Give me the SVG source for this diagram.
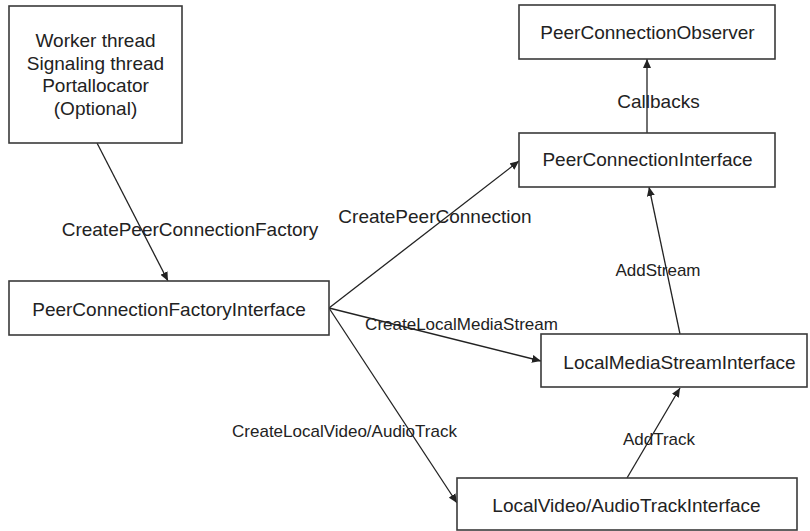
<svg xmlns="http://www.w3.org/2000/svg" width="810" height="531" viewBox="0 0 810 531">
  <defs>
    <style>
      .box { fill: #ffffff; stroke: #3a3a3a; stroke-width: 1.6; }
      .edge { fill: none; stroke: #222222; stroke-width: 1.3; marker-end: url(#arrow); }
      text { font-family: "Liberation Sans", Arial, sans-serif; fill: #222222; text-anchor: middle; }
      .node { font-size: 19px; }
      .lbl { font-size: 19px; }
      .lbl-s { font-size: 17px; }
    </style>
    <marker id="arrow" markerUnits="userSpaceOnUse" markerWidth="10" markerHeight="8" refX="9" refY="4" orient="auto">
      <path d="M0,0 L9,4 L0,8 z" fill="#222222"/>
    </marker>
  </defs>
  <rect width="810" height="531" fill="#ffffff"/>

  <!-- connectors -->
  <g id="connectors">
    <line class="edge" x1="97" y1="143" x2="168" y2="281"/>
    <line class="edge" x1="329" y1="308" x2="519" y2="161"/>
    <line class="edge" x1="647" y1="133" x2="647" y2="59"/>
    <line class="edge" x1="329" y1="308" x2="541" y2="361"/>
    <line class="edge" x1="680" y1="334" x2="649" y2="187"/>
    <line class="edge" x1="329" y1="308" x2="457" y2="503"/>
    <line class="edge" x1="627" y1="478" x2="680" y2="388"/>
  </g>

  <!-- nodes -->
  <g id="threads">
    <rect class="box" x="9" y="6" width="173" height="137"/>
    <text class="node" x="95.5" y="47">Worker thread</text>
    <text class="node" x="95.5" y="69.5">Signaling thread</text>
    <text class="node" x="95.5" y="92">Portallocator</text>
    <text class="node" x="95.5" y="114.5">(Optional)</text>
  </g>
  <g id="observer">
    <rect class="box" x="519" y="5" width="256" height="54"/>
    <text class="node" x="647.5" y="38.5">PeerConnectionObserver</text>
  </g>
  <g id="peer-connection">
    <rect class="box" x="519" y="133" width="256" height="54"/>
    <text class="node" x="647.5" y="166">PeerConnectionInterface</text>
  </g>
  <g id="factory">
    <rect class="box" x="9" y="281" width="320" height="54"/>
    <text class="node" x="169" y="316">PeerConnectionFactoryInterface</text>
  </g>
  <g id="media-stream">
    <rect class="box" x="541" y="334" width="266" height="53"/>
    <text class="node" x="679.5" y="368.5">LocalMediaStreamInterface</text>
  </g>
  <g id="track">
    <rect class="box" x="457" y="478" width="340" height="52"/>
    <text class="node" x="626.5" y="512">LocalVideo/AudioTrackInterface</text>
  </g>

  <!-- connector labels -->
  <g id="labels">
    <text class="lbl" x="190" y="236" font-size="18.6px">CreatePeerConnectionFactory</text>
    <text class="lbl" x="435" y="223">CreatePeerConnection</text>
    <text class="lbl" x="658.5" y="107.5">Callbacks</text>
    <text class="lbl-s" x="461.5" y="329.5">CreateLocalMediaStream</text>
    <text class="lbl-s" x="658" y="276">AddStream</text>
    <text class="lbl-s" x="344.5" y="437">CreateLocalVideo/AudioTrack</text>
    <text class="lbl-s" x="659" y="444.5">AddTrack</text>
  </g>
</svg>
